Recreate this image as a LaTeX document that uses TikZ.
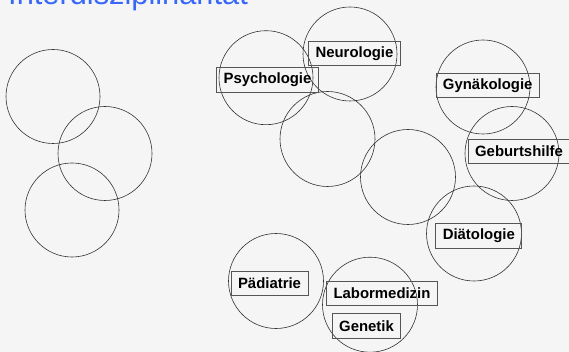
\documentclass[tikz,border=0pt]{standalone}
\usepackage{fontspec}
\setmainfont{Liberation Sans}
\usepackage{tikz}
\definecolor{titleblue}{RGB}{56,104,250}
\definecolor{bgcol}{RGB}{245,245,245}
\definecolor{linecol}{RGB}{50,50,50}
\definecolor{boxcol}{RGB}{85,85,85}

\begin{document}
\begin{tikzpicture}[x=1pt, y=-1pt,
    field/.style={draw=boxcol, line width=0.8pt, inner xsep=7pt, inner ysep=0pt,
      minimum height=24.5pt, outer sep=0pt, font=\fontsize{14.9}{17}\selectfont\bfseries},
    ring/.style={draw=linecol, line width=0.6pt}]
      % Background and page size
      \fill[bgcol] (0,0) rectangle (569,352);
      \useasboundingbox (0,0) rectangle (569,352);

      % Title (cut by the top edge)
      \node[anchor=base west, inner sep=0pt, text=titleblue,
        font=\fontsize{30.8}{34}\selectfont] (title) at (8,5) {Interdisziplinarität};

      % Circles on the left
      \draw[ring] (53,96.5) circle (47);
      \draw[ring] (105,153.5) circle (47);
      \draw[ring] (72,210) circle (47);

      % Circles on the right
      \draw[ring] (266,77.7) circle (47);
      \draw[ring] (350,54) circle (47);
      \draw[ring] (327.5,139) circle (47.5);
      \draw[ring] (408,177) circle (47.5);
      \draw[ring] (483,87) circle (47);
      \draw[ring] (512,153.5) circle (47);
      \draw[ring] (474,233.5) circle (47.5);
      \draw[ring] (276,281) circle (47.5);
      \draw[ring] (370,304.7) circle (47.5);

      % Labels
      \node[field] (neuro) at (354.5,53.3) {Neurologie};
      \node[field] (psycho) at (267.5,80) {Psychologie};
      \node[field] (gyn) at (487.7,85.3) {Gynäkologie};
      \node[field] (geburt) at (519,151.3) {Geburtshilfe};
      \node[field] (diaet) at (478.8,235.8) {Diätologie};
      \node[field] (paed) at (269.5,283.2) {Pädiatrie};
      \node[field] (labor) at (382,293.3) {Labormedizin};
      \node[field] (genetik) at (366.5,325.8) {Genetik};
    \end{tikzpicture}
\end{document}
